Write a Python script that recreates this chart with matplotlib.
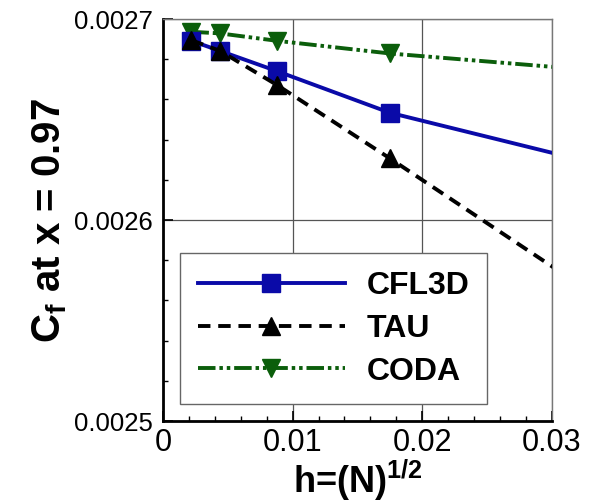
import matplotlib
matplotlib.use("Agg")
import matplotlib.pyplot as plt
from matplotlib.ticker import MultipleLocator

plt.rcParams['font.family'] = ['Liberation Sans', 'DejaVu Sans']
plt.rcParams['mathtext.fontset'] = 'custom'
plt.rcParams['mathtext.rm'] = 'Liberation Sans'
plt.rcParams['mathtext.bf'] = 'Liberation Sans:bold'
plt.rcParams['mathtext.it'] = 'Liberation Sans:italic'

# Data
h_cfl3d = [0.0022, 0.0044, 0.0088, 0.0175, 0.035]
cf_cfl3d = [0.0026892, 0.0026842, 0.0026741, 0.0026534, 0.0026255]

h_tau = [0.0022, 0.0044, 0.0088, 0.0175, 0.035]
cf_tau = [0.0026895, 0.0026842, 0.0026672, 0.0026307, 0.0025554]

h_coda = [0.0022, 0.0044, 0.0088, 0.0175, 0.035]
cf_coda = [0.0026937, 0.0026929, 0.0026892, 0.0026829, 0.0026736]

labels = ["CFL3D", "TAU", "CODA"]
xticks = [0, 0.01, 0.02, 0.03]
xticklabels = ["0", "0.01", "0.02", "0.03"]
yticks = [0.0025, 0.0026, 0.0027]
yticklabels = ["0.0025", "0.0026", "0.0027"]

fig = plt.figure(figsize=(6.10, 5.03), dpi=100)
ax = fig.add_axes([0.267, 0.163, 0.638, 0.799])

blue = '#0a0aa8'
green = '#0b5e0b'

ax.plot(h_cfl3d, cf_cfl3d, color=blue, lw=2.8, ls='-', marker='s', ms=12.5,
        label=labels[0], zorder=4)
ax.plot(h_tau, cf_tau, color='black', lw=2.8, ls=(0, (3.2, 2.0)), marker='^', ms=12.5,
        label=labels[1], zorder=4)
ax.plot(h_coda, cf_coda, color=green, lw=2.8,
        ls=(0, (4.5, 1.0, 0.9, 1.0, 0.9, 1.0)), marker='v', ms=12.5,
        label=labels[2], zorder=3)

ax.set_xlim(0, 0.03)
ax.set_ylim(0.0025, 0.0027)

ax.set_xticks(xticks)
ax.set_xticklabels(xticklabels, fontsize=22)
ax.set_yticks(yticks)
ax.set_yticklabels(yticklabels, fontsize=18.5)
ax.xaxis.set_minor_locator(MultipleLocator(0.002))
ax.yaxis.set_minor_locator(MultipleLocator(0.00002))

ax.tick_params(axis='both', which='major', direction='in', length=7, width=1.2,
               top=False, right=False)
ax.tick_params(axis='both', which='minor', direction='in', length=3.6, width=1,
               top=False, right=False)
ax.tick_params(axis='x', which='major', pad=5)
ax.tick_params(axis='y', which='major', pad=7)

ax.grid(True, which='major', color='#555555', lw=0.9)

for s in ['left', 'bottom']:
    ax.spines[s].set_linewidth(2.0)
    ax.spines[s].set_color('black')
for s in ['top', 'right']:
    ax.spines[s].set_linewidth(1.0)
    ax.spines[s].set_color('#777777')

ax.set_xlabel(r'h=(N)$^{\mathbf{1/2}}$', fontsize=26, fontweight='bold', labelpad=0)
ax.set_ylabel(r'C$_{\mathbf{f}}$ at x = 0.97', fontsize=29, fontweight='bold', labelpad=4)

leg = ax.legend(loc='lower left', bbox_to_anchor=(0.044, 0.042),
                prop={'weight': 'bold', 'size': 23}, handlelength=4.6,
                handletextpad=0.7, labelspacing=0.4, borderpad=0.55,
                frameon=True, fancybox=False, borderaxespad=0)
leg.get_frame().set_edgecolor('#666666')
leg.get_frame().set_linewidth(1.0)
leg.get_frame().set_facecolor('white')
leg.get_frame().set_alpha(1)
leg.set_zorder(5)

fig.savefig('out.png', dpi=100)
